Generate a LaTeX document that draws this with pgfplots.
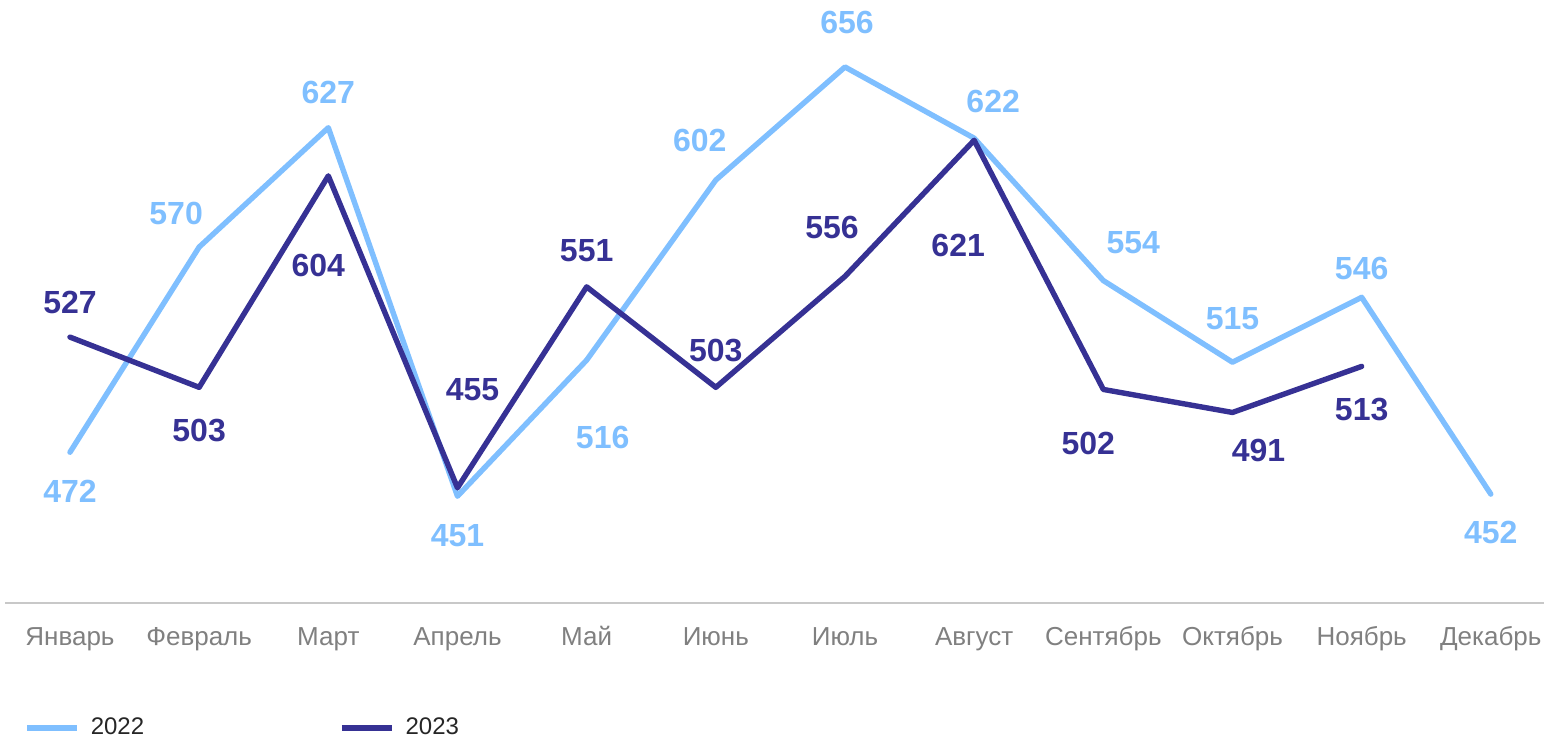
\documentclass[border=0pt]{standalone}
\usepackage{pgfplots}
\pgfplotsset{compat=1.18}
\usepackage{pgfplotstable}
\usepackage{fontspec}
\setmainfont{Liberation Sans}
\definecolor{lightb}{RGB}{127,191,255}
\definecolor{darkb}{RGB}{54,49,148}
\definecolor{tickgray}{RGB}{128,128,128}
\definecolor{axgray}{RGB}{200,200,200}
\definecolor{legtext}{RGB}{38,38,38}

\pgfplotstableread{
x y dx dy
0 472 0 -19.5
1 570 -11.5 17
2 627 0 17.5
3 451 0 -19.5
4 516 8 -38.5
5 602 -8 20
6 656 1 22.5
7 622 9.5 18.5
8 554 15 19
9 515 0 22
10 546 0 14.5
11 452 0 -19
}\tableA

\pgfplotstableread{
x y dx dy
0 527 0 17.5
1 503 0 -21.5
2 604 -5 -45
3 455 7.5 49
4 551 0 18
5 503 0 18.5
6 556 -6.5 24.5
7 621 -8 -52.5
8 502 -7.5 -27
9 491 13 -19
10 513 0 -21.5
}\tableB

\begin{document}
\begin{tikzpicture}
\begin{axis}[
  at={(0,0)}, anchor=south west,
  scale only axis,
  width=775pt, height=301.5pt,
  xmin=-0.5, xmax=11.5,
  ymin=400, ymax=688,
  axis x line*=bottom,
  axis y line=none,
  x axis line style={draw=axgray, line width=1pt},
  xtick={0,...,11},
  xticklabels={Январь,Февраль,Март,Апрель,Май,Июнь,Июль,Август,Сентябрь,Октябрь,Ноябрь,Декабрь},
  major tick length=0pt,
  typeset ticklabels with strut,
  xticklabel style={font=\fontsize{13}{15}\selectfont, text=tickgray, anchor=center, yshift=-18pt},
  ytick=\empty,
  clip=false,
  point meta=y,
  nodes near coords={\pgfmathprintnumber[assume math mode=true]{\pgfplotspointmeta}},
  visualization depends on={\thisrow{dx} \as \dx},
  visualization depends on={\thisrow{dy} \as \dy},
  every node near coord/.append style={anchor=center, xshift=\dx pt, yshift=\dy pt, font=\fontsize{16}{19}\selectfont\bfseries},
  legend columns=2,
  legend image code/.code={\draw[#1, line cap=butt] (0pt,0pt) -- (25pt,0pt);},
  legend style={at={(0,0)}, anchor=west, xshift=9.3pt, yshift=-62.5pt, draw=none, fill=none, inner sep=0pt,
    nodes={inner sep=0pt, text=legtext, font=\fontsize{12}{14}\selectfont},
    /tikz/every odd column/.append style={column sep=5.5pt},
    /tikz/every even column/.append style={column sep=97.5pt}},
]
\addplot[lightb, line width=2.7pt, line cap=round, line join=round, mark=none,
  every node near coord/.append style={text=lightb}] table[x=x, y=y] {\tableA};
\addlegendentry{2022}
\addplot[darkb, line width=2.7pt, line cap=round, line join=round, mark=none,
  every node near coord/.append style={text=darkb}] table[x=x, y=y] {\tableB};
\addlegendentry{2023}
\end{axis}
\pgfresetboundingbox
\path (-2.7pt,-68.5pt) rectangle (769.3pt,301.5pt);
\end{tikzpicture}
\end{document}
